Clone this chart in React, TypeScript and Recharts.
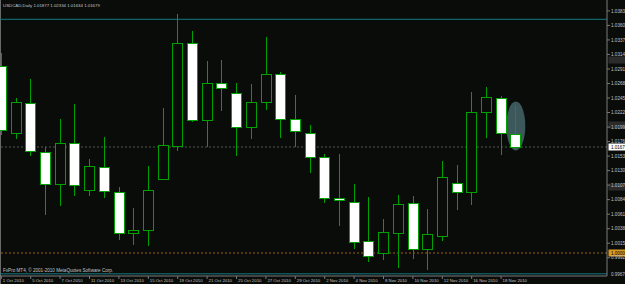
import React from 'react';
import { ComposedChart, Bar, XAxis, YAxis, ReferenceLine, ReferenceDot } from 'recharts';

const symbolTitle = 'USDCAD,Daily';
const copyrightText = 'FxPro MT4, \u00a9 2001-2010 MetaQuotes Software Corp.';

const dates = [
  '1 Oct 2010', '4 Oct 2010', '5 Oct 2010', '6 Oct 2010', '7 Oct 2010', '8 Oct 2010',
  '11 Oct 2010', '12 Oct 2010', '13 Oct 2010', '14 Oct 2010', '15 Oct 2010',
  '18 Oct 2010', '19 Oct 2010', '20 Oct 2010', '21 Oct 2010', '22 Oct 2010',
  '25 Oct 2010', '26 Oct 2010', '27 Oct 2010', '28 Oct 2010', '29 Oct 2010',
  '1 Nov 2010', '2 Nov 2010', '3 Nov 2010', '4 Nov 2010', '5 Nov 2010',
  '8 Nov 2010', '9 Nov 2010', '10 Nov 2010', '11 Nov 2010', '12 Nov 2010',
  '15 Nov 2010', '16 Nov 2010', '17 Nov 2010', '18 Nov 2010', '19 Nov 2010',
];
const opens = [
  1.02962, 1.01901, 1.02376, 1.01600, 1.01093, 1.01742, 1.00998, 1.01362, 1.00966, 1.00317,
  1.00364, 1.01172, 1.01695, 1.03326, 1.02107, 1.02693, 1.02534, 1.01996, 1.02392, 1.02835,
  1.02123, 1.01901, 1.01521, 1.00871, 1.00808, 1.00190, 1.00000, 1.00317, 1.00792, 1.00063,
  1.00269, 1.01109, 1.00966, 1.02233, 1.02455, 1.01877,
];
const highs = [
  1.03168, 1.02455, 1.02756, 1.01679, 1.02123, 1.02360, 1.01489, 1.01837, 1.01045, 1.00713,
  1.01378, 1.02297, 1.03786, 1.03516, 1.03041, 1.03057, 1.02693, 1.02677, 1.03421, 1.02867,
  1.02503, 1.02028, 1.01568, 1.01568, 1.01093, 1.00887, 1.00538, 1.00919, 1.00903, 1.00697,
  1.01457, 1.01394, 1.02550, 1.02629, 1.02487, 1.02334,
];
const lows = [
  1.01869, 1.01806, 1.01536, 1.00602, 1.00744, 1.00903, 1.00903, 1.00871, 1.00206, 1.00127,
  1.00111, 1.01156, 1.01616, 1.02075, 1.01679, 1.02249, 1.01536, 1.01806, 1.02265, 1.01822,
  1.01679, 1.01267, 1.00792, 1.00428, 1.00063, 0.99857, 0.99889, 0.99762, 0.99905, 0.99731,
  1.00190, 1.00681, 1.00760, 1.01822, 1.01552, 1.01634,
];
const closes = [
  1.01948, 1.02392, 1.01616, 1.01093, 1.01742, 1.01077, 1.01378, 1.00982, 1.00317, 1.00364,
  1.00998, 1.01711, 1.03326, 1.02107, 1.02693, 1.02614, 1.01996, 1.02392, 1.02835, 1.02123,
  1.01933, 1.01521, 1.00871, 1.00840, 1.00174, 0.99953, 1.00333, 1.00776, 1.00063, 1.00301,
  1.01204, 1.00966, 1.02233, 1.02471, 1.01901, 1.01679,
];
const yTicks = [
  0.99925, 1.00155, 1.00385, 1.00615, 1.00845, 1.01075, 1.01305, 1.01535, 1.01765,
  1.01995, 1.02225, 1.02455, 1.02685, 1.02915, 1.03145, 1.03375, 1.03605, 1.03835,
];
const priceDomain = [0.996356, 1.040075];
const tealLevels = [1.03702, 0.9967];
const bidLevel = 1.01679;
const parityLevel = 1.0;
const grayLevels = [1.03057, 1.02028, 1.01045];
const ellipseBar = 35;
const ellipseLevel = 1.02012;
const emptySlots = 5;

const BG = '#0a0c0a';
const GREEN = '#00a000';
const AXIS = '#7a7a7a';
const TXT = '#c4c4c4';
const FONT = 'Liberation Sans, Arial, sans-serif';
const W = 625;
const H = 284;
const MARGIN = { top: 0, right: 0, bottom: 0, left: -6.05 };

const rows = [
  ...dates.map((d, i) => ({
    i,
    d,
    o: opens[i],
    h: highs[i],
    l: lows[i],
    c: closes[i],
    range: [lows[i], highs[i]],
  })),
  ...Array.from({ length: emptySlots }, (_, k) => ({
    i: dates.length + k,
    d: '',
    o: null,
    h: null,
    l: null,
    c: null,
    range: null,
  })),
];

function Candle(props: any) {
  const { x, y, width, height, payload } = props;
  if (!payload || payload.o == null || y == null) return <g />;
  const top = Math.min(y, y + height);
  const bot = Math.max(y, y + height);
  const k = (bot - top) / (payload.h - payload.l);
  const py = (v: number) => top + (payload.h - v) * k;
  const cx = Math.round(x + width / 2 - 0.5) + 0.5;
  const yo = py(payload.o);
  const yc = py(payload.c);
  const bTop = Math.round(Math.min(yo, yc)) + 0.5;
  const bBot = Math.max(Math.round(Math.max(yo, yc)) + 0.5, bTop + 1);
  const bear = payload.c < payload.o;
  return (
    <g>
      <line x1={cx} x2={cx} y1={top} y2={bot} stroke={GREEN} strokeWidth={1} />
      <rect
        x={cx - 5}
        y={bTop}
        width={10}
        height={bBot - bTop}
        fill={bear ? '#ffffff' : BG}
        stroke={GREEN}
        strokeWidth={1}
      />
    </g>
  );
}

function DateTick(props: any) {
  const { x, y, payload } = props;
  const idx = payload && payload.value;
  if (idx == null || idx >= dates.length || idx % 2 !== 0) return <g />;
  return (
    <g>
      <line x1={x} x2={x} y1={y} y2={y + 3} stroke={AXIS} />
      <text x={x + 1.5} y={y + 6.2} fill={TXT} fontSize={4.3} fontFamily={FONT}>
        {dates[idx]}
      </text>
    </g>
  );
}

const boxLabel = (bg: string, fg: string, value: number | null) => (p: any) => {
  const vb = p.viewBox || {};
  const bx = (vb.x || 0) + (vb.width || 0) + 1.5;
  const by = vb.y || 0;
  return (
    <g>
      <rect x={bx} y={by - 3.5} width={20} height={7} fill={bg} />
      {value != null && (
        <text x={bx + 2.5} y={by + 1.7} fill={fg} fontSize={4.5} fontFamily={FONT}>
          {value.toFixed(5)}
        </text>
      )}
    </g>
  );
};

export default function App() {
  const last = dates.length - 1;
  const title = `${symbolTitle} ${opens[last].toFixed(5)} ${highs[last].toFixed(5)} ${lows[last].toFixed(5)} ${closes[last].toFixed(5)}`;
  const xAxisCommon = {
    dataKey: 'i',
    type: 'category' as const,
    height: 8,
    padding: { left: 0, right: 10.35 },
    interval: 0,
    tickLine: false,
    tickSize: 0,
    tickMargin: 0,
  };
  const yAxisCommon = {
    orientation: 'right' as const,
    type: 'number' as const,
    width: 18,
    domain: priceDomain,
    allowDataOverflow: true,
    ticks: yTicks,
    interval: 0,
    tickSize: 3,
    tickMargin: 1,
  };
  return (
    <div
      style={{
        position: 'fixed',
        left: 0,
        top: 0,
        width: W,
        height: H,
        background: BG,
        overflow: 'hidden',
      }}
    >
      <div style={{ position: 'absolute', left: 0, top: 0, width: 1, height: H, background: '#6a6a6a' }} />
      {/* background layer: objects drawn behind the candles */}
      <div style={{ position: 'absolute', left: 0, top: 0 }}>
        <ComposedChart width={W} height={H} data={rows} margin={MARGIN} barCategoryGap={0}>
          <XAxis {...xAxisCommon} axisLine={false} tick={false} />
          <YAxis {...yAxisCommon} axisLine={false} tickLine={false} tick={false} />
          {tealLevels.map((t) => (
            <ReferenceLine key={t} y={t} stroke="#157a80" strokeWidth={1} />
          ))}
          <ReferenceLine y={parityLevel} stroke="#9a6418" strokeDasharray="2 2" />
          <ReferenceLine y={bidLevel} stroke="#4f5c53" strokeDasharray="2 2" />
          <ReferenceDot
            x={ellipseBar}
            y={ellipseLevel}
            shape={(p: any) => <ellipse cx={p.cx} cy={p.cy} rx={9.5} ry={24.5} fill="#3d585b" />}
          />
          <Bar dataKey="range" barSize={11} isAnimationActive={false} shape={() => <g />} />
        </ComposedChart>
      </div>
      {/* foreground layer: axes, candles and price labels */}
      <div style={{ position: 'absolute', left: 0, top: 0 }}>
        <ComposedChart width={W} height={H} data={rows} margin={MARGIN} barCategoryGap={0}>
          <XAxis {...xAxisCommon} axisLine={{ stroke: AXIS }} tick={<DateTick />} />
          <YAxis
            {...yAxisCommon}
            tickLine={{ stroke: AXIS }}
            axisLine={{ stroke: AXIS }}
            tick={{ fill: TXT, fontSize: 4.6, fontFamily: FONT }}
            tickFormatter={(v: number) => v.toFixed(5)}
          />
          <Bar dataKey="range" barSize={11} isAnimationActive={false} shape={<Candle />} />
          {grayLevels.map((g) => (
            <ReferenceLine key={g} y={g} stroke="none" label={boxLabel('rgba(70,70,70,0.55)', '#9a9a9a', null)} />
          ))}
          <ReferenceLine y={tealLevels[1]} stroke="none" label={boxLabel('transparent', TXT, tealLevels[1])} />
          <ReferenceLine y={parityLevel} stroke="none" label={boxLabel('#d99a25', '#000000', parityLevel)} />
          <ReferenceLine y={bidLevel} stroke="none" label={boxLabel('#ffffff', '#000000', bidLevel)} />
        </ComposedChart>
      </div>
      <svg width={W} height={H} style={{ position: 'absolute', left: 0, top: 0, pointerEvents: 'none' }}>
        <text x={3} y={7} fill={TXT} fontSize={4.35} fontFamily={FONT}>
          {title}
        </text>
        <text x={3} y={272.3} fill={TXT} fontSize={4.6} fontFamily={FONT}>
          {copyrightText}
        </text>
      </svg>
    </div>
  );
}
